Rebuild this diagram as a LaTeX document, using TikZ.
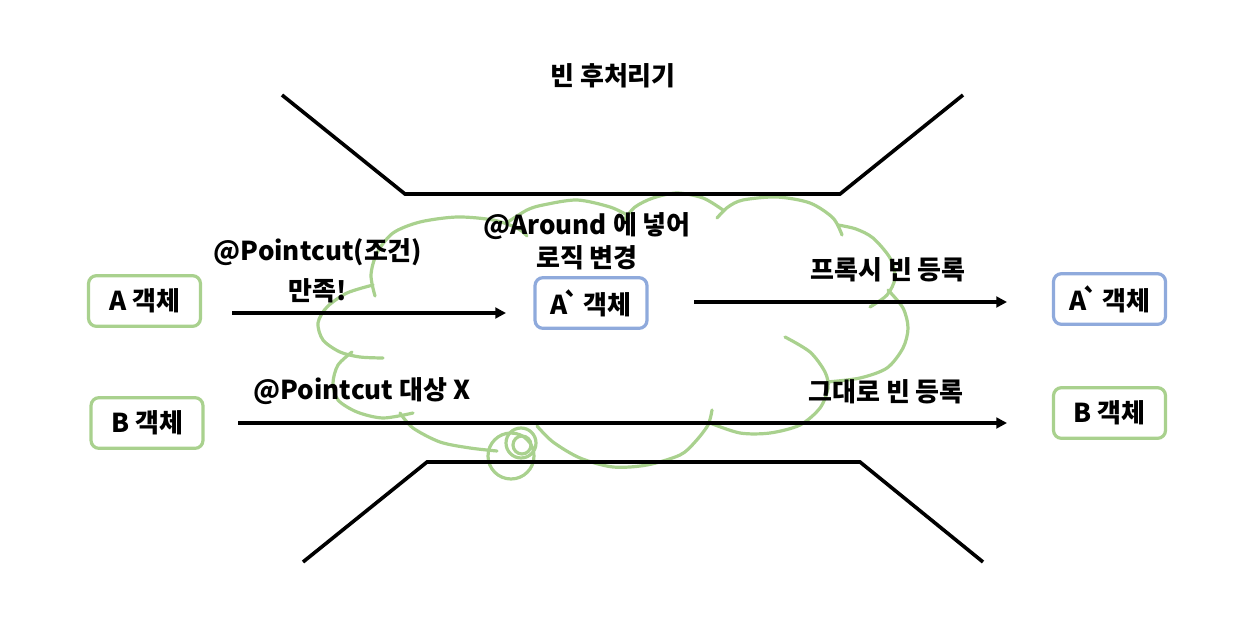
\documentclass[tikz,border=0pt]{standalone}
\usepackage{fontspec}
\setmainfont{Noto Sans CJK KR}[Ligatures=TeXOff]
\usetikzlibrary{arrows.meta}

\definecolor{boxgreen}{RGB}{169,209,142}
\definecolor{boxblue}{RGB}{143,170,220}

\tikzset{every picture/.style={line width=2.7pt}}

\begin{document}
\begin{tikzpicture}[x=0.75pt,y=0.75pt,yscale=-1,xscale=1,
  lbl/.style={font=\fontsize{19.5}{25}\selectfont\bfseries, inner sep=0.75pt, align=center},
  objbox/.style={lbl, draw, line width=2.4pt, rounded corners=6pt, minimum width=84pt, minimum height=38pt},
  arr/.style={-{Triangle[length=8pt,width=8pt]}},
  cloudline/.style={draw=boxgreen, line width=2.4pt, line cap=round}]
\useasboundingbox (0,0) rectangle (1248,642);

%Cloud
\draw[cloudline] plot[smooth] coordinates {(373,285) (347,293) (327,307) (318,323) (323,340) (340,352) (360,357) (383,358)};
\draw[cloudline] plot[smooth] coordinates {(375,296) (371,275) (377,253) (393,233) (420,222) (457,217) (493,220) (517,228) (527,236)};
\draw[cloudline] plot[smooth] coordinates {(508,222) (527,210) (543,205) (577,200) (610,207) (627,215)};
\draw[cloudline] plot[smooth] coordinates {(624,220) (635,207) (653,198) (677,193) (703,198) (723,210)};
\draw[cloudline] plot[smooth] coordinates {(717,218) (728,207) (743,200) (777,197) (810,203) (833,218) (842,235)};
\draw[cloudline] plot[smooth] coordinates {(838,225) (856,229) (873,238) (890,258) (895,278) (887,295) (870,307)};
\draw[cloudline] plot[smooth] coordinates {(888,290) (903,308) (908,328) (903,348) (887,368) (860,378) (827,382)};
\draw[cloudline] plot[smooth] coordinates {(785,337) (810,352) (825,372) (828,388) (820,408) (800,425) (770,433) (740,433) (710,423)};
\draw[cloudline] plot[smooth] coordinates {(712,410) (708,425) (695,442) (680,455) (647,465) (613,467) (580,458) (553,442) (537,426)};
\draw[cloudline] plot[smooth] coordinates {(400,413) (413,428) (440,442) (470,448) (497,451)};
\draw[cloudline] plot[smooth] coordinates {(352,352) (338,365) (333,383) (338,400) (357,412) (383,418) (413,413)};
\draw[cloudline] (511,456) circle (23);
\draw[cloudline] (521,443) circle (15);
\draw[cloudline] (522,445) circle (9);

%Trapezoid top and bottom
\draw (282,95) -- (405,194) -- (840,194) -- (963,95);
\draw (303,562) -- (427,462) -- (860,462) -- (983,562);

% Text Node
\node[lbl] (title) at (613,76) {빈 후처리기};

%Objects
\node[objbox, draw=boxgreen] (objA) at (144.5,301) {A 객체};
\node[objbox, draw=boxgreen] (objB) at (147,423) {B 객체};
\node[objbox, draw=boxblue] (proxyA) at (591,303) {A\kern-3pt`\kern-2pt{} 객체};
\node[objbox, draw=boxblue] (beanA) at (1109.5,299) {A\kern-3pt`\kern-2pt{} 객체};
\node[objbox, draw=boxgreen] (beanB) at (1109.5,413) {B 객체};

%Arrows
\coordinate (arwAfrom) at (232,313);
\coordinate (arwAto) at (506,313);
\coordinate (arwPfrom) at (694,302);
\coordinate (arwPto) at (1007,302);
\coordinate (arwBfrom) at (238,423);
\coordinate (arwBto) at (1007,423);
\draw[arr] (arwAfrom) -- (arwAto);
\draw[arr] (arwPfrom) -- (arwPto);
\draw[arr] (arwBfrom) -- (arwBto);

% Text Node
\node[lbl] (condTxt) at (318,270.5) {@Pointcut(조건)\\[5pt]만족!};
% Text Node
\node[lbl] (aroundTxt) at (587,241) {@Around 에 넣어\\로직 변경};
% Text Node
\node[lbl] (proxyTxt) at (888,270) {프록시 빈 등록};
% Text Node
\node[lbl] (pcNotTxt) at (362,391) {@Pointcut 대상 X};
% Text Node
\node[lbl] (asIsTxt) at (886,392) {그대로 빈 등록};

\end{tikzpicture}
\end{document}
